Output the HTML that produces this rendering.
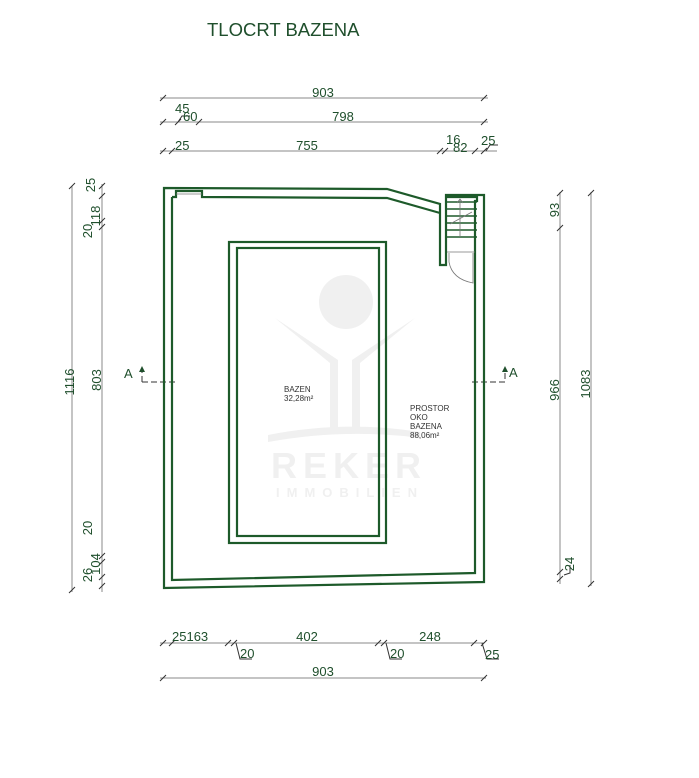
<!DOCTYPE html>
<html><head><meta charset="utf-8"><style>
html,body{margin:0;padding:0;background:#fff;}
svg{display:block;}
text{font-family:"Liberation Sans",sans-serif;fill:#1f4f2c;}
</style></head><body>
<svg width="699" height="778" viewBox="0 0 699 778" xmlns="http://www.w3.org/2000/svg">
<!-- watermark -->
<g fill="#f0f0f0" stroke="none">
<circle cx="346" cy="302" r="27"/>
<path d="M275 318 L330 363 L330 430 L338 430 L338 360 Z"/>
<path d="M415 318 L360 363 L360 430 L352 430 L352 360 Z"/>
<path d="M268 435 Q345 420 420 432 L420 438 Q345 428 268 442 Z"/>
</g>
<text x="349" y="478" font-size="36" text-anchor="middle" style="fill:#f0f0f0;letter-spacing:6px;font-weight:bold">REKER</text>
<text x="350" y="497" font-size="13" text-anchor="middle" style="fill:#f0f0f0;letter-spacing:7px;font-weight:bold">IMMOBILIEN</text>

<text x="207" y="36" font-size="18.5">TLOCRT BAZENA</text>

<!-- dimension lines -->
<g stroke="#8a8a8a" stroke-width="1" fill="none">
<line x1="160" y1="98" x2="488" y2="98"/>
<line x1="160" y1="122" x2="488" y2="122"/>
<line x1="160" y1="151" x2="497" y2="151"/>
<line x1="72" y1="186" x2="72" y2="592"/>
<line x1="102" y1="184" x2="102" y2="592"/>
<line x1="560" y1="192" x2="560" y2="584"/>
<line x1="591" y1="192" x2="591" y2="586"/>
<line x1="160" y1="643" x2="484" y2="643"/>
<line x1="160" y1="678" x2="486" y2="678"/>
</g>
<g stroke="#333" stroke-width="1" fill="none">
<path d="M160 101 L166 95 M481 101 L487 95"/>
<path d="M160 125 L166 119 M175 125 L181 119 M196 125 L202 119 M481 125 L487 119"/>
<path d="M160 154 L166 148 M169 154 L175 148 M437 154 L443 148 M442 154 L448 148 M472 154 L478 148 M481 154 L487 148"/>
<path d="M69 189 L75 183 M69 593 L75 587"/>
<path d="M99 189 L105 183 M99 199 L105 193 M99 224 L105 218 M99 230 L105 224 M99 559 L105 553 M99 565 L105 559 M99 580 L105 574 M99 589 L105 583"/>
<path d="M557 196 L563 190 M557 231 L563 225 M557 575 L563 569 M557 582 L563 576 M588 196 L594 190 M588 587 L594 581"/>
<path d="M160 646 L166 640 M169 646 L175 640 M225 646 L231 640 M231 646 L237 640 M375 646 L381 640 M381 646 L387 640 M471 646 L477 640 M481 646 L487 640"/>
<path d="M160 681 L166 675 M481 681 L487 675"/>
<path d="M178 122 L182 116 L190 116 M236 643 L240 659 L252 659 M386 643 L390 659 L402 659 M482 643 L487 659 L499 659 M486 151 L490 145 L498 145 M564 575 L570 573 L570 565"/>
</g>

<g font-size="13">
<text x="323" y="97" text-anchor="middle">903</text>
<text x="175" y="113">45</text>
<text x="183" y="121">60</text>
<text x="343" y="121" text-anchor="middle">798</text>
<text x="175" y="150">25</text>
<text x="307" y="150" text-anchor="middle">755</text>
<text x="446" y="144">16</text>
<text x="453" y="152">82</text>
<text x="481" y="145">25</text>
<text x="172" y="641">25163</text>
<text x="307" y="641" text-anchor="middle">402</text>
<text x="430" y="641" text-anchor="middle">248</text>
<text x="240" y="658">20</text>
<text x="390" y="658">20</text>
<text x="485" y="659">25</text>
<text x="323" y="676" text-anchor="middle">903</text>
<text transform="translate(74,382) rotate(-90)" text-anchor="middle">1116</text>
<text transform="translate(101,380) rotate(-90)" text-anchor="middle">803</text>
<text transform="translate(95,185) rotate(-90)" text-anchor="middle">25</text>
<text transform="translate(100,216) rotate(-90)" text-anchor="middle">118</text>
<text transform="translate(92,231) rotate(-90)" text-anchor="middle">20</text>
<text transform="translate(92,528) rotate(-90)" text-anchor="middle">20</text>
<text transform="translate(100,564) rotate(-90)" text-anchor="middle">104</text>
<text transform="translate(92,575) rotate(-90)" text-anchor="middle">26</text>
<text transform="translate(559,210) rotate(-90)" text-anchor="middle">93</text>
<text transform="translate(559,390) rotate(-90)" text-anchor="middle">966</text>
<text transform="translate(590,384) rotate(-90)" text-anchor="middle">1083</text>
<text transform="translate(574,564) rotate(-90)" text-anchor="middle">24</text>
<text x="124" y="378">A</text>
<text x="509" y="377">A</text>
</g>

<g stroke="#333" stroke-width="1" fill="none">
<path d="M142 382 L142 370 M142 382 L178 382" stroke-dasharray="6,3"/>
<path d="M472 382 L505 382 L505 370" stroke-dasharray="6,3"/>
</g>
<path d="M139 372 L142 366 L145 372 Z M502 372 L505 366 L508 372 Z" fill="#1f4f2c"/>

<!-- walls -->
<g stroke="#1d5a2a" stroke-width="2.2" fill="none">
<path d="M164 188 L387 189 L440 204 L440 265 L446 265 L446 195 L484 195 L484 582 L164 588 Z"/>
<path d="M172 197 L172 580 L475 573 L475 201 L477 201 L477 197 L446 197"/>
<path d="M172 197 L176 197 L176 191 L202 191 L202 197 L387 198 L440 213"/>
<rect x="229" y="242" width="157" height="301"/>
<rect x="237" y="248" width="142" height="288"/>
</g>
<g stroke="#1d5a2a" stroke-width="1.6">
<line x1="446" y1="202" x2="477" y2="202"/>
<line x1="446" y1="209" x2="477" y2="209"/>
<line x1="446" y1="216" x2="477" y2="216"/>
<line x1="446" y1="223" x2="477" y2="223"/>
<line x1="446" y1="230" x2="477" y2="230"/>
<line x1="446" y1="237" x2="477" y2="237"/>
</g>
<g stroke="#777" stroke-width="0.8" fill="none">
<line x1="176" y1="194" x2="202" y2="194"/>
<line x1="460" y1="199" x2="460" y2="237"/>
<path d="M457 203 L460 199 L463 203 M450 224 L472 212"/>
<line x1="447" y1="252" x2="475" y2="252"/>
<path d="M449 253 L449 262 Q452 279 473 283 L473 253"/>
</g>

<text x="284" y="392" font-size="8" style="fill:#333">BAZEN</text>
<text x="284" y="401" font-size="8" style="fill:#333">32,28m²</text>
<text x="410" y="411" font-size="8" style="fill:#333">PROSTOR</text>
<text x="410" y="420" font-size="8" style="fill:#333">OKO</text>
<text x="410" y="429" font-size="8" style="fill:#333">BAZENA</text>
<text x="410" y="438" font-size="8" style="fill:#333">88,06m²</text>
</svg>
</body></html>
